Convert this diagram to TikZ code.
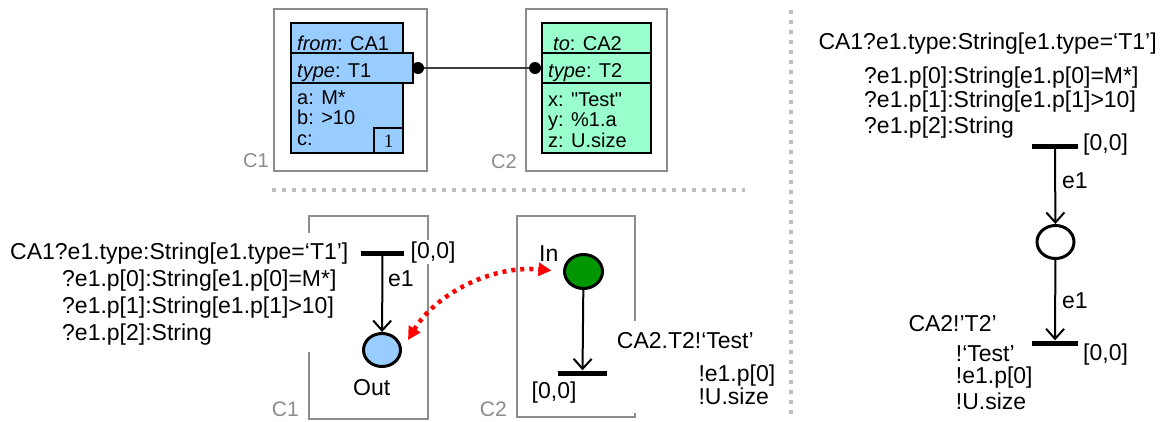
\documentclass[tikz,border=0pt]{standalone}
\usepackage{fontspec}
\setmainfont{Liberation Sans}
\newfontfamily\oneserif{Liberation Serif}
\usetikzlibrary{arrows.meta,shapes.geometric}
\definecolor{boxblue}{RGB}{153,204,255}
\definecolor{boxgreen}{RGB}{153,255,204}
\definecolor{tokgreen}{RGB}{0,150,0}
\definecolor{cgray}{RGB}{140,140,140}
\definecolor{sepgray}{RGB}{190,190,190}
\definecolor{wire}{RGB}{60,60,60}
\begin{document}
\begin{tikzpicture}[x=1pt,y=-1pt,
  txt/.style={font=\fontsize{23}{27}\selectfont, inner sep=0pt, anchor=base west},
  smalltxt/.style={font=\fontsize{20}{20}\selectfont, inner sep=0pt, anchor=base west},
  clabel/.style={font=\fontsize{20}{20}\selectfont, text=cgray, inner sep=0pt, anchor=base east},
  comp/.style={draw=cgray, line width=1.5pt},
  sepline/.style={draw=sepgray, line width=4pt, dash pattern=on 4pt off 6pt},
  petribar/.style={fill=black, draw=none, minimum width=46pt, minimum height=5pt, inner sep=0pt},
  petriplace/.style={ellipse, draw=black, line width=3pt, minimum width=37pt, minimum height=33pt, inner sep=0pt},
  flowarc/.style={line width=2pt, -{Straight Barb[length=10pt,width=18pt]}},
  boxline/.style={draw=black, line width=1.3pt},
  attdot/.style={circle, fill=black, minimum size=12pt, inner sep=0pt},
  redlink/.style={red, line width=4.5pt, dash pattern=on 4pt off 5pt, {Triangle[length=13pt,width=13pt]}-{Triangle[length=13pt,width=13pt]}},
]
\fill[white] (0,0) rectangle (1165,421);
\useasboundingbox (0,0) rectangle (1165,421);

% separators
\draw[sepline] (272,190) -- (745,190);
\draw[sepline] (791,10) -- (791,415);

% ---------- top: components ----------
\draw[comp] (274,9) rectangle (427,171);
\draw[comp] (526,9) rectangle (667,171);
\node[clabel] (c1a) at (269,167) {C1};
\node[clabel] (c2a) at (517,168) {C2};

% blue box
\filldraw[boxline, fill=boxblue] (291,23) rectangle (403,153);
\filldraw[boxline, fill=boxblue] (291,53) rectangle (413,83);
\draw[boxline] (374,128) rectangle (403,153);
\node[font=\oneserif\fontsize{19}{19}\selectfont, inner sep=0pt] (one) at (388.5,141) {1};
\node[smalltxt] (from) at (297,50.5) {\textit{from}: CA1};
\node[smalltxt] (type1) at (297,77.5) {\textit{type}: T1};
\node[smalltxt] (atta) at (297,104) {a: M*};
\node[smalltxt] (attb) at (297,124.5) {b: >10};
\node[smalltxt] (attc) at (297,145) {c:};

% green box
\filldraw[boxline, fill=boxgreen] (542,23) rectangle (651,153);
\draw[boxline] (542,53) -- (651,53) (542,83) -- (651,83);
\node[smalltxt] (to) at (553,50.5) {\textit{to}: CA2};
\node[smalltxt] (type2) at (548,77.5) {\textit{type}: T2};
\node[smalltxt] (attx) at (548,106) {x: \textquotedbl Test\textquotedbl};
\node[smalltxt] (atty) at (548,126.5) {y: \%1.a};
\node[smalltxt] (attz) at (548,147) {z: U.size};

\node[attdot] (d1) at (418,68) {};
\node[attdot] (d2) at (535,68) {};
\draw[wire, line width=1.5pt] (d1) -- (d2);

% ---------- bottom left: C1 ----------
\draw[comp] (309,216) rectangle (428,419);
\node[clabel, font=\fontsize{21}{21}\selectfont] (c1b) at (299,416) {C1};
\fill[white] (4,233) rectangle (356,352);
\node[txt] (la1) at (10,259.5) {CA1?e1.type:String[e1.type=‘T1’]};
\node[txt] (la2) at (62,286.5) {?e1.p[0]:String[e1.p[0]=M*]};
\node[txt] (la3) at (62,313.3) {?e1.p[1]:String[e1.p[1]>10]};
\node[txt] (la4) at (62,340) {?e1.p[2]:String};
\node[petribar, minimum width=43pt] (b1) at (382.5,253) {};
\node[petriplace, fill=boxblue] (outc) at (382,350) {};
\draw[flowarc] (b1) -- (outc);
\node[txt, fill=white, inner sep=1pt] (b1lab) at (409.5,258) {[0,0]};
\node[txt] (e1a) at (388,286.7) {e1};
\node[txt] (outlab) at (353,395) {Out};

% ---------- bottom: C2 ----------
\draw[comp] (517,216) rectangle (635,417);
\node[clabel, font=\fontsize{21}{21}\selectfont] (c2b) at (507,416) {C2};
\fill[white] (612,321) rectangle (782,413);
\node[petriplace, fill=tokgreen, minimum width=38pt, minimum height=34pt] (inc) at (583.5,271.5) {};
\node[petribar, minimum width=49pt] (b2) at (582.5,373) {};
\draw[flowarc] (inc) -- (b2);
\node[txt] (inlab) at (539,261.5) {In};
\node[txt] (b2lab) at (531.5,398.5) {[0,0]};
\node[txt] (lb1) at (616.7,348.5) {CA2.T2!‘Test’};
\node[txt] (lb2) at (698.3,381) {!e1.p[0]};
\node[txt] (lb3) at (698.3,404.5) {!U.size};

% red mapping
\draw[redlink] ([shift={(26,-10)}]outc.center) .. controls (435,295) and (490,265) .. ([shift={(-32,-1)}]inc.center);

% ---------- right: composed net ----------
\node[txt] (ra1) at (818.3,49.5) {CA1?e1.type:String[e1.type=‘T1’]};
\node[txt] (ra2) at (864,83.5) {?e1.p[0]:String[e1.p[0]=M*]};
\node[txt] (ra3) at (864,107) {?e1.p[1]:String[e1.p[1]>10]};
\node[txt] (ra4) at (864,133) {?e1.p[2]:String};
\node[petribar] (r1) at (1055,146) {};
\node[petriplace] (rp) at (1055.5,242) {};
\node[petribar] (r2) at (1055,343) {};
\draw[flowarc] (r1) -- (rp);
\draw[flowarc] (rp) -- (r2);
\node[txt] (r1lab) at (1083,150) {[0,0]};
\node[txt] (r2lab) at (1083,360) {[0,0]};
\node[txt] (e1b) at (1062,188) {e1};
\node[txt] (e1c) at (1062,308) {e1};
\node[txt] (rb1) at (908.3,331.5) {CA2!’T2’};
\node[txt] (rb2) at (955.7,361.5) {!‘Test’};
\node[txt] (rb3) at (955.7,383) {!e1.p[0]};
\node[txt] (rb4) at (955.7,409) {!U.size};
\end{tikzpicture}
\end{document}
